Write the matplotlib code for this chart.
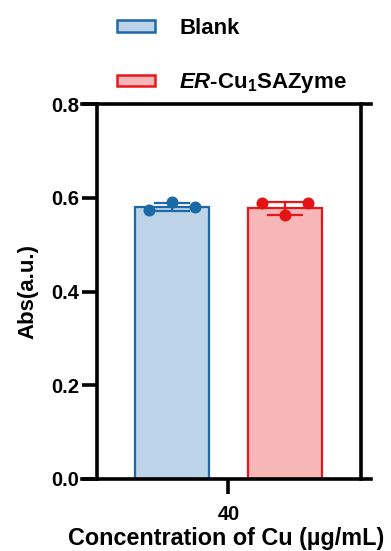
import matplotlib
matplotlib.use("Agg")
import matplotlib.pyplot as plt
from matplotlib.patches import Patch
import numpy as np

plt.rcParams['font.family'] = ['Liberation Sans', 'DejaVu Sans']
plt.rcParams['font.weight'] = 'bold'
plt.rcParams['mathtext.fontset'] = 'custom'
plt.rcParams['mathtext.rm'] = 'Liberation Sans:bold'
plt.rcParams['mathtext.it'] = 'Liberation Sans:italic:bold'
plt.rcParams['mathtext.bf'] = 'Liberation Sans:bold'

# data
groups = ['Blank', r'$\mathit{ER}$-Cu$_{\mathrm{1}}$SAZyme']
concentration = ['40']
bar_means = [0.580, 0.578]
bar_sd = [0.009, 0.014]
points = [[0.574, 0.590, 0.580],
          [0.588, 0.563, 0.588]]

# colours
fills = ['#bcd3e8', '#f7b7b8']
edges = ['#1f68a8', '#e8161b']
dots = ['#1b6aa8', '#e51414']

fig = plt.figure(figsize=(3.91, 5.51), dpi=100)
W, H = 391, 551
ax = fig.add_axes([82 / W, 1 - 479 / H, (371 - 82) / W, (479 - 104) / H])

offsets = [-0.5, 0.5]
jitter = [-0.2, 0.0, 0.2]
for i in range(2):
    x = offsets[i]
    ax.bar(x, bar_means[i], width=0.655, color=fills[i], edgecolor=edges[i],
           linewidth=1.6, zorder=2)
    ax.errorbar(x, bar_means[i], yerr=bar_sd[i], fmt='none', ecolor=edges[i],
                elinewidth=1.6, capsize=13, capthick=1.6, zorder=3)
    ax.scatter([x + j for j in jitter], points[i], s=75, color=dots[i],
               zorder=4, linewidths=0)

ax.set_xlim(-1.296, 1.261)
ax.set_ylim(0, 0.8)
ax.set_yticks([0.0, 0.2, 0.4, 0.6, 0.8])
ax.set_yticklabels(['0.0', '0.2', '0.4', '0.6', '0.8'])
ax.set_xticks([0])
ax.set_xticklabels(concentration)

# frame: horizontal lines run past the vertical ones
for s in ['top', 'bottom', 'left', 'right']:
    ax.spines[s].set_linewidth(2.6)
ax.spines['left'].set_position(('axes', (97 - 82) / (371 - 82)))
ax.spines['right'].set_position(('axes', (361 - 82) / (371 - 82)))
ax.tick_params(axis='y', length=11, width=2.6, labelsize=14.5, pad=2,
               right=False, direction='out')
ax.tick_params(axis='x', length=11, width=2.6, labelsize=14.5, pad=8)
for lab in ax.get_xticklabels() + ax.get_yticklabels():
    lab.set_fontweight('bold')

ax.set_ylabel('Abs(a.u.)', fontsize=16, fontweight='bold', labelpad=9)
ax.set_xlabel('Concentration of Cu (\u00b5g/mL)', fontsize=16.8, fontweight='bold',
              labelpad=2)

handles = [Patch(facecolor=fills[i], edgecolor=edges[i], linewidth=1.8)
           for i in range(2)]
fig.legend(handles, groups, loc='upper left', bbox_to_anchor=(97 / W, 1 + 2 / H),
           frameon=False, handlelength=1.7, handleheight=0.42,
           handletextpad=1.1, labelspacing=1.45, prop={'weight': 'bold', 'size': 16})

fig.savefig('out.png', dpi=100)
